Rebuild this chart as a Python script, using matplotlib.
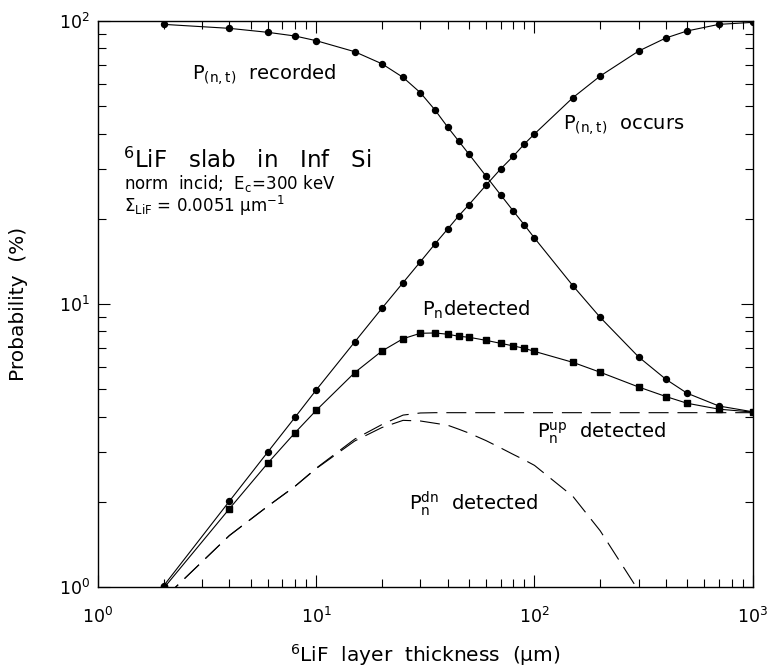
import matplotlib
matplotlib.use("Agg")
import matplotlib.pyplot as plt
from matplotlib.ticker import LogLocator, LogFormatterMathtext, NullFormatter

plt.rcParams['font.family'] = ['DejaVu Sans']
plt.rcParams['mathtext.default'] = 'regular'

# layer thickness (um) at which the probabilities were computed
thickness = [2, 4, 6, 8, 10, 15, 20, 25, 30, 35, 40, 45, 50, 60, 70, 80, 90,
             100, 150, 200, 300, 400, 500, 700, 1000]

# probabilities in percent
p_recorded = [97.3, 94.2, 91.2, 88.5, 85.2, 77.9, 70.6, 63.2, 55.8, 48.5, 42.2,
              37.6, 33.9, 28.3, 24.3, 21.3, 19.0, 17.1, 11.6, 8.97, 6.50, 5.42,
              4.84, 4.36, 4.16]
p_occurs = [1.01, 2.01, 3.00, 3.98, 4.97, 7.34, 9.66, 11.9, 14.1, 16.3, 18.4,
            20.5, 22.4, 26.3, 30.0, 33.3, 36.8, 39.9, 53.6, 63.9, 78.3, 87.1,
            92.2, 97.3, 98.9]
p_n_det = [0.99, 1.89, 2.74, 3.51, 4.21, 5.72, 6.82, 7.54, 7.88, 7.90, 7.82,
           7.69, 7.63, 7.44, 7.26, 7.11, 6.97, 6.80, 6.22, 5.74, 5.09, 4.71,
           4.46, 4.25, 4.15]
p_n_up = [0.91, 1.52, 1.93, 2.27, 2.63, 3.33, 3.75, 4.05, 4.12, 4.13, 4.13,
          4.13, 4.13, 4.13, 4.13, 4.13, 4.13, 4.13, 4.13, 4.13, 4.13, 4.13,
          4.13, 4.13, 4.13]
thickness_dn = [2, 4, 6, 8, 10, 15, 20, 25, 30, 35, 40, 45, 50, 60, 70, 80, 90,
                100, 150, 200, 300]
p_n_dn = [0.91, 1.52, 1.93, 2.27, 2.62, 3.28, 3.66, 3.88, 3.86, 3.79, 3.73,
          3.61, 3.50, 3.29, 3.10, 2.94, 2.81, 2.69, 2.09, 1.58, 0.97]

fig = plt.figure(figsize=(7.71, 6.71), dpi=100)
ax = fig.add_axes([0.1271, 0.1252, 0.8492, 0.8435])

lw = 0.8
ax.plot(thickness, p_recorded, '-', color='black', lw=lw,
        marker='o', ms=4.3, mec='black', mfc='black')
ax.plot(thickness, p_occurs, '-', color='black', lw=lw,
        marker='o', ms=4.3, mec='black', mfc='black')
ax.plot(thickness, p_n_det, '-', color='black', lw=lw,
        marker='s', ms=4.6, mec='black', mfc='black')
ax.plot(thickness, p_n_up, color='black', lw=0.8, ls=(0, (18, 8)))
ax.plot(thickness_dn, p_n_dn, color='black', lw=0.8, ls=(0, (18, 8)))

ax.set_xscale('log')
ax.set_yscale('log')
ax.set_xlim(1, 1000)
ax.set_ylim(1, 100)

for axis in (ax.xaxis, ax.yaxis):
    axis.set_major_locator(LogLocator(base=10))
    axis.set_minor_locator(LogLocator(base=10, subs=range(2, 10)))
    axis.set_major_formatter(LogFormatterMathtext())
    axis.set_minor_formatter(NullFormatter())

ax.tick_params(which='both', direction='in', top=True, right=True,
               width=0.8, color='black')
ax.tick_params(which='major', length=8.5, labelsize=12.5)
ax.tick_params(which='minor', length=5.5)
ax.tick_params(axis='x', which='major', pad=14)
ax.tick_params(axis='y', which='major', pad=6)
for sp in ax.spines.values():
    sp.set_linewidth(1.0)

ax.set_xlabel(r'$^{6}$LiF  layer  thickness  (μm)', fontsize=14.5, labelpad=11)
ax.set_ylabel('Probability  (%)', fontsize=14.5, labelpad=22)

# curve labels
lab = 14
ax.text(2.70, 61.9, r'P$_{(n,t)}$  recorded', fontsize=lab, va='baseline')
ax.text(135.8, 41.2, r'P$_{(n,t)}$  occurs', fontsize=lab, va='baseline')
ax.text(30.5, 9.07, r'P$_{n}$detected', fontsize=lab, va='baseline')
ax.text(102.9, 3.35, r'P$_{n}^{up}$  detected', fontsize=lab, va='baseline')
ax.text(26.5, 1.87, r'P$_{n}^{dn}$  detected', fontsize=lab, va='baseline')

# slab description
ax.text(1.30, 30.2, r'$^{6}$LiF   slab   in   Inf   Si', fontsize=16.5, va='baseline')
ax.text(1.32, 25.5, r'norm  incid;  E$_{c}$=300 keV', fontsize=12, va='baseline')
ax.text(1.32, 21.2, r'$\Sigma_{LiF}$ = 0.0051 μm$^{-1}$', fontsize=12, va='baseline')

fig.savefig('out.png', dpi=100)
